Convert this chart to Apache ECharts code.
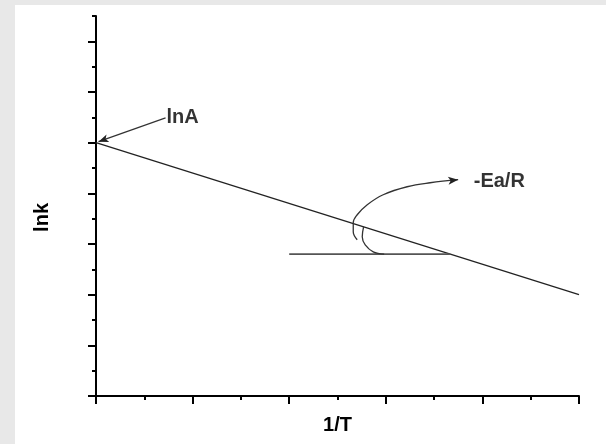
<!DOCTYPE html>
<html>
<head>
<meta charset="utf-8">
<script src="https://cdn.jsdelivr.net/npm/echarts@6/dist/echarts.min.js"></script>
<style>
html,body{margin:0;padding:0;background:#fff;}
#c{width:606px;height:444px;}
</style>
</head>
<body>
<div id="c"></div>
<script>
// Straight Arrhenius line lnk vs 1/T
const lineX = [0, 5];
const lineY = [5, 2];
// Horizontal reference segment (for the slope angle)
const baseX = [2.0, 3.667];
const baseY = [2.8, 2.8];
// Small angle arc between baseline and line
const angleArcX = [2.77, 2.756, 2.787, 2.87, 2.983];
const angleArcY = [3.34, 3.142, 2.984, 2.846, 2.8];
// Curved arrow pointing to -Ea/R
const curveX = [2.704, 2.663, 2.663, 2.704, 2.808, 2.973, 3.221, 3.459, 3.749];
const curveY = [3.083, 3.241, 3.419, 3.577, 3.775, 3.972, 4.130, 4.209, 4.269];
// Arrow from lnA label to the intercept
const lnAArrowX = [0.72, 0.026];
const lnAArrowY = [5.49, 5.02];
// Annotation labels
const labelText = ['lnA', '-Ea/R'];
const labelX = [0.72, 3.9];
const labelY = [5.49, 4.23];
const xName = '1/T';
const yName = 'lnk';

const FONT = '"Liberation Sans", Arial, sans-serif';
const BLACK = '#000';

function pts(xs, ys) { return xs.map((x, i) => [x, ys[i]]); }

function arrowEnd(xs, ys, rot) {
  return xs.map((x, i) => {
    if (i === xs.length - 1) {
      return { value: [x, ys[i]], symbol: 'arrow', symbolSize: [6, 10], symbolRotate: rot };
    }
    return { value: [x, ys[i]], symbol: 'none' };
  });
}

const chart = echarts.init(document.getElementById('c'), null, { renderer: 'canvas' });
chart.setOption({
  backgroundColor: '#ffffff',
  animation: false,
  graphic: [
    { type: 'rect', left: 0, top: 0, shape: { width: 606, height: 5 }, style: { fill: '#e8e8e8' }, silent: true },
    { type: 'rect', left: 0, top: 0, shape: { width: 15, height: 444 }, style: { fill: '#e8e8e8' }, silent: true },
    { type: 'text', left: 32, top: 203, rotation: Math.PI / 2,
      style: { text: yName, font: 'bold 20px ' + FONT, fill: BLACK } }
  ],
  grid: [
    { left: 96, right: 27, top: 16, bottom: 48 },
    { left: 96, right: 27, top: 41.33, bottom: 48 }
  ],
  xAxis: [
    {
      gridIndex: 0, type: 'value', min: 0, max: 5, interval: 1,
      axisLine: { lineStyle: { color: BLACK, width: 2 } },
      axisTick: { show: true, inside: false, length: 8, lineStyle: { color: BLACK, width: 2 } },
      minorTick: { show: true, splitNumber: 2, length: 4, lineStyle: { color: BLACK, width: 2 } },
      axisLabel: { show: false },
      splitLine: { show: false },
      name: xName, nameLocation: 'middle', nameGap: 19,
      nameTextStyle: { fontFamily: FONT, fontWeight: 'bold', fontSize: 20, color: BLACK }
    },
    { gridIndex: 1, type: 'value', min: 0, max: 5, show: false }
  ],
  yAxis: [
    {
      gridIndex: 0, type: 'value', min: 0, max: 7.5, interval: 0.5,
      axisLine: { lineStyle: { color: BLACK, width: 2 } },
      axisTick: { show: true, inside: false, length: 4, lineStyle: { color: BLACK, width: 2 } },
      axisLabel: { show: false },
      splitLine: { show: false }
    },
    {
      gridIndex: 1, type: 'value', min: 0, max: 7, interval: 1,
      axisLine: { show: false },
      axisTick: { show: true, inside: false, length: 8, lineStyle: { color: BLACK, width: 2 } },
      axisLabel: { show: false },
      splitLine: { show: false }
    }
  ],
  series: [
    {
      type: 'line', data: pts(lineX, lineY), showSymbol: false,
      lineStyle: { color: '#222', width: 1.3 }
    },
    {
      type: 'line', data: pts(baseX, baseY), showSymbol: false,
      lineStyle: { color: '#555', width: 1.8 }
    },
    {
      type: 'line', data: pts(angleArcX, angleArcY), showSymbol: false, smooth: 0.4,
      lineStyle: { color: '#333', width: 1.3 }
    },
    {
      type: 'line', data: arrowEnd(curveX, curveY, -84), smooth: 0.4,
      itemStyle: { color: '#222' },
      lineStyle: { color: '#333', width: 1.3 }
    },
    {
      type: 'line', data: arrowEnd(lnAArrowX, lnAArrowY, 110),
      itemStyle: { color: '#222' },
      lineStyle: { color: '#333', width: 1.2 }
    },
    {
      type: 'scatter', symbolSize: 0, silent: true,
      data: labelText.map((t, i) => ({ value: [labelX[i], labelY[i]], name: t })),
      label: {
        show: true, position: 'right', distance: 1,
        formatter: p => p.name,
        fontFamily: FONT, fontWeight: 'bold', fontSize: 20, color: BLACK
      }
    }
  ]
});
</script>
</body>
</html>
